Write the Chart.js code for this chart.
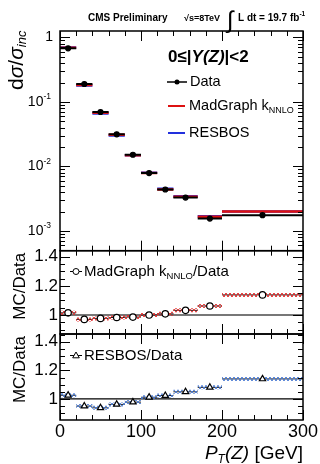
<!DOCTYPE html>
<html>
<head>
<meta charset="utf-8">
<script src="https://cdn.jsdelivr.net/npm/chart.js@4.4.1/dist/chart.umd.min.js"></script>
<style>
  html, body { margin: 0; padding: 0; background: #fff; }
  canvas { display: block; }
</style>
</head>
<body>
<canvas id="zpt" width="320" height="464"></canvas>
<script>
// pT(Z) binning [GeV]
const binEdges = [0, 20, 40, 60, 80, 100, 120, 140, 170, 200, 300];
const binCenters = [10, 30, 50, 70, 90, 110, 130, 155, 185, 250];

// normalised cross section dsigma/sigma_inc per bin
const dataXsec     = [0.68, 0.19, 0.070, 0.0315, 0.0152, 0.0079, 0.0044, 0.0033, 0.00156, 0.00176];
const madgraphXsec = [0.69, 0.184, 0.068, 0.0310, 0.0150, 0.0079, 0.0044, 0.0034, 0.00166, 0.0020];
const resbosXsec   = [0.70, 0.180, 0.066, 0.0303, 0.0149, 0.0080, 0.0045, 0.00347, 0.00169, 0.0020];

// MC / Data ratios
const madgraphRatio = [1.015, 0.970, 0.977, 0.983, 0.986, 1.000, 1.008, 1.032, 1.062, 1.138];
const resbosRatio   = [1.026, 0.950, 0.938, 0.962, 0.978, 1.012, 1.024, 1.050, 1.081, 1.140];

// tick labels
const xTickValues = [0, 100, 200, 300];
const logTickExps = [0, -1, -2, -3];
const ratioTickValues = [1, 1.2, 1.4];
const ratioTickLabels = ['1', '1.2', '1.4'];

const FONT = 'Liberation Sans, Arial, Helvetica, sans-serif';
const RED = '#dd1111';
const BLUE = '#2230dd';

// one horizontal segment per bin, broken by nulls
function binSegments(vals) {
  const pts = [];
  vals.forEach((v, i) => {
    pts.push({ x: binEdges[i], y: v }, { x: binEdges[i + 1], y: v }, { x: binEdges[i + 1], y: null });
  });
  return pts;
}

function atCenters(vals) {
  return binCenters.map((x, i) => ({ x: x, y: vals[i] }));
}

// hatch pattern for the MC uncertainty bands
function hatch(color) {
  const c = document.createElement('canvas');
  c.width = 4; c.height = 4;
  const g = c.getContext('2d');
  g.strokeStyle = color;
  g.lineWidth = 1;
  g.beginPath();
  g.moveTo(0, 4); g.lineTo(4, 0);
  g.moveTo(0, 0); g.lineTo(4, 4);
  g.stroke();
  return g.createPattern(c, 'repeat');
}

function segLine(data, axis, color, width) {
  return { type: 'line', data: data, yAxisID: axis, borderColor: color, borderWidth: width,
           pointRadius: 0, fill: false, spanGaps: false, tension: 0 };
}

function markers(data, axis, style, radius, fillColor) {
  return { type: 'scatter', data: data, yAxisID: axis, pointStyle: style, pointRadius: radius,
           pointBackgroundColor: fillColor, pointBorderColor: '#000', pointBorderWidth: 1.2, showLine: false };
}

const datasets = [
  // top panel
  segLine(binSegments(resbosXsec), 'y', BLUE, 2.5),
  segLine(binSegments(madgraphXsec), 'y', RED, 2.5),
  segLine(binSegments(dataXsec), 'y', '#000', 2),
  markers(atCenters(dataXsec), 'y', 'circle', 2.5, '#000'),
  // MadGraph / Data
  segLine([{ x: 0, y: 1 }, { x: 300, y: 1 }], 'yMid', '#777', 2),
  segLine(binSegments(madgraphRatio), 'yMid', '#222', 1),
  segLine(binSegments(madgraphRatio), 'yMid', hatch('rgba(225,40,40,0.85)'), 4),
  markers(atCenters(madgraphRatio), 'yMid', 'circle', 3.2, '#fff'),
  // RESBOS / Data
  segLine([{ x: 0, y: 1 }, { x: 300, y: 1 }], 'yBot', '#000', 1.2),
  segLine(binSegments(resbosRatio), 'yBot', '#222', 1),
  segLine(binSegments(resbosRatio), 'yBot', hatch('rgba(70,120,210,0.85)'), 4),
  markers(atCenters(resbosRatio), 'yBot', 'triangle', 3.6, '#fff')
];
// first in list is drawn first (underneath)
datasets.forEach((d, i) => { d.order = 100 - i; });

// draw a run of text pieces [text, font, dy]
function textRun(ctx, x, y, parts) {
  parts.forEach(([t, f, dy]) => {
    ctx.font = f;
    ctx.fillText(t, x, y + (dy || 0));
    x += ctx.measureText(t).width;
  });
  return x;
}
function runWidth(ctx, parts) {
  let w = 0;
  parts.forEach(([t, f]) => { ctx.font = f; w += ctx.measureText(t).width; });
  return w;
}

function drawPanelTicks(ctx, xs, ys, yTicks) {
  ctx.beginPath();
  for (let v = 0; v <= 300; v += 20) {
    const px = Math.round(xs.getPixelForValue(v)) + 0.5;
    const len = v % 100 === 0 ? 10 : 5;
    ctx.moveTo(px, ys.top); ctx.lineTo(px, ys.top + len);
    ctx.moveTo(px, ys.bottom); ctx.lineTo(px, ys.bottom - len);
  }
  yTicks.forEach(([v, major]) => {
    const py = Math.round(ys.getPixelForValue(v)) + 0.5;
    const len = major ? 10 : 5;
    ctx.moveTo(xs.left, py); ctx.lineTo(xs.left + len, py);
    ctx.moveTo(xs.right, py); ctx.lineTo(xs.right - len, py);
  });
  ctx.stroke();
}

const rootStyle = {
  id: 'rootStyle',
  afterDraw(chart) {
    const ctx = chart.ctx;
    const xs = chart.scales.x, yTop = chart.scales.y, yMid = chart.scales.yMid, yBot = chart.scales.yBot;
    ctx.save();
    ctx.strokeStyle = '#000';
    ctx.fillStyle = '#000';

    // ticks
    ctx.lineWidth = 1;
    const logTicks = [];
    for (let e = -4; e <= 0; e++) {
      for (let m = 1; m <= 9; m++) {
        const v = m * Math.pow(10, e);
        if (v >= yTop.min && v <= yTop.max) logTicks.push([v, m === 1]);
      }
    }
    drawPanelTicks(ctx, xs, yTop, logTicks);
    [yMid, yBot].forEach(s => {
      const t = [];
      for (let k = 17; k <= 29; k++) {
        const v = k * 0.05;
        if (v >= s.min && v <= s.max) t.push([v, k % 4 === 0]);
      }
      drawPanelTicks(ctx, xs, s, t);
    });

    // frames
    ctx.lineWidth = 1.5;
    [yTop, yMid, yBot].forEach(s => ctx.strokeRect(xs.left, s.top, xs.right - xs.left, s.bottom - s.top));

    // log axis labels
    ctx.textBaseline = 'middle';
    ctx.textAlign = 'left';
    logTickExps.forEach(e => {
      const py = yTop.getPixelForValue(Math.pow(10, e));
      if (e === 0) {
        ctx.font = '14px ' + FONT;
        ctx.textAlign = 'right';
        ctx.fillText('1', 53, py);
        ctx.textAlign = 'left';
      } else {
        const parts = [['10', '14px ' + FONT, 0], [String(e), '8.5px ' + FONT, -5]];
        textRun(ctx, 51 - runWidth(ctx, parts), py, parts);
      }
    });

    // ratio axis labels
    ctx.font = '17px ' + FONT;
    ctx.textAlign = 'right';
    [yMid, yBot].forEach(s => {
      ratioTickValues.forEach((v, i) => ctx.fillText(ratioTickLabels[i], 58, s.getPixelForValue(v)));
    });

    // x axis labels
    ctx.font = '18px ' + FONT;
    ctx.textAlign = 'center';
    ctx.textBaseline = 'alphabetic';
    xTickValues.forEach(v => ctx.fillText(String(v), xs.getPixelForValue(v), 437));

    // x title
    ctx.textAlign = 'left';
    const xt = [['P', 'italic 19px ' + FONT, 0], ['T', 'italic 12px ' + FONT, 4],
                ['(Z)', 'italic 19px ' + FONT, 0], [' [GeV]', '19px ' + FONT, 0]];
    textRun(ctx, 303 - runWidth(ctx, xt), 459, xt);

    // y titles (rotated)
    ctx.save();
    ctx.translate(23, 90);
    ctx.rotate(-Math.PI / 2);
    textRun(ctx, 0, 0, [['d', '21px ' + FONT, 0], ['σ', 'italic 21px ' + FONT, 0], ['/', '21px ' + FONT, 0],
                        ['σ', 'italic 21px ' + FONT, 0], ['inc', 'italic 13px ' + FONT, 3]]);
    ctx.restore();
    [yMid, yBot].forEach(s => {
      ctx.save();
      ctx.translate(25, s.top + 2);
      ctx.rotate(-Math.PI / 2);
      ctx.font = '17px ' + FONT;
      ctx.textAlign = 'right';
      ctx.fillText('MC/Data', 0, 0);
      ctx.restore();
    });

    // header
    ctx.textAlign = 'left';
    ctx.font = 'bold 10px ' + FONT;
    ctx.fillText('CMS Preliminary', 88, 21);
    ctx.font = 'bold 9px ' + FONT;
    ctx.fillText('√s=8TeV', 184, 21);
    ctx.font = '24px ' + FONT;
    ctx.fillText('∫', 227, 28);
    textRun(ctx, 238, 21, [['L dt = 19.7 fb', 'bold 10px ' + FONT, 0], ['-1', 'bold 6.5px ' + FONT, -5]]);

    // top legend
    ctx.textBaseline = 'middle';
    textRun(ctx, 168, 57, [['0≤|', 'bold 17px ' + FONT, 0], ['Y(Z)', 'bold italic 17px ' + FONT, 0], ['|<2', 'bold 17px ' + FONT, 0]]);
    ctx.lineWidth = 1.5;
    ctx.strokeStyle = '#000';
    ctx.beginPath(); ctx.moveTo(167, 82); ctx.lineTo(187, 82); ctx.stroke();
    ctx.beginPath(); ctx.arc(177, 82, 2.5, 0, Math.PI * 2); ctx.fill();
    ctx.font = '14.5px ' + FONT;
    ctx.fillText('Data', 190, 82);
    ctx.lineWidth = 2;
    ctx.strokeStyle = RED;
    ctx.beginPath(); ctx.moveTo(168, 106); ctx.lineTo(185, 106); ctx.stroke();
    textRun(ctx, 189, 106, [['MadGraph k', '14.5px ' + FONT, 0], ['NNLO', '9px ' + FONT, 5]]);
    ctx.strokeStyle = BLUE;
    ctx.beginPath(); ctx.moveTo(168, 133); ctx.lineTo(185, 133); ctx.stroke();
    ctx.font = '14.5px ' + FONT;
    ctx.fillText('RESBOS', 189, 133);

    // ratio legends
    ctx.strokeStyle = '#000';
    ctx.lineWidth = 1;
    ctx.beginPath(); ctx.moveTo(70, 271.5); ctx.lineTo(82, 271.5); ctx.stroke();
    ctx.fillStyle = '#fff';
    ctx.beginPath(); ctx.arc(76, 271.5, 3, 0, Math.PI * 2); ctx.fill(); ctx.stroke();
    ctx.fillStyle = '#000';
    textRun(ctx, 84, 271.5, [['MadGraph k', '15px ' + FONT, 0], ['NNLO', '9.5px ' + FONT, 5], ['/Data', '15px ' + FONT, 0]]);
    ctx.beginPath(); ctx.moveTo(70, 355.5); ctx.lineTo(82, 355.5); ctx.stroke();
    ctx.fillStyle = '#fff';
    ctx.beginPath(); ctx.moveTo(76, 352); ctx.lineTo(79.3, 357.8); ctx.lineTo(72.7, 357.8); ctx.closePath(); ctx.fill(); ctx.stroke();
    ctx.fillStyle = '#000';
    ctx.font = '15px ' + FONT;
    ctx.fillText('RESBOS/Data', 84, 355.5);

    ctx.restore();
  }
};

function hiddenY(extra) {
  return Object.assign({
    position: 'left', stack: 'panels', offset: false,
    grid: { display: false, drawTicks: false }, border: { display: false },
    ticks: { display: false }, title: { display: false },
    afterFit: s => { s.width = 0; }
  }, extra);
}

new Chart(document.getElementById('zpt'), {
  type: 'line',
  data: { datasets: datasets },
  options: {
    responsive: false,
    devicePixelRatio: 1,
    animation: false,
    events: [],
    layout: { autoPadding: false, padding: { left: 60, right: 17, top: 31, bottom: 0 } },
    plugins: { legend: { display: false }, tooltip: { enabled: false } },
    scales: {
      x: {
        type: 'linear', position: 'bottom', min: 0, max: 300,
        grid: { display: false, drawTicks: false }, border: { display: false },
        ticks: { display: false },
        afterFit: s => { s.height = 44; }
      },
      yBot: hiddenY({ type: 'linear', min: 0.853, max: 1.454, stackWeight: 86 }),
      yMid: hiddenY({ type: 'linear', min: 0.870, max: 1.441, stackWeight: 83.3 }),
      y: hiddenY({ type: 'logarithmic', min: 4.95e-4, max: 1.26, stackWeight: 219.7 })
    }
  },
  plugins: [rootStyle]
});
</script>
</body>
</html>
